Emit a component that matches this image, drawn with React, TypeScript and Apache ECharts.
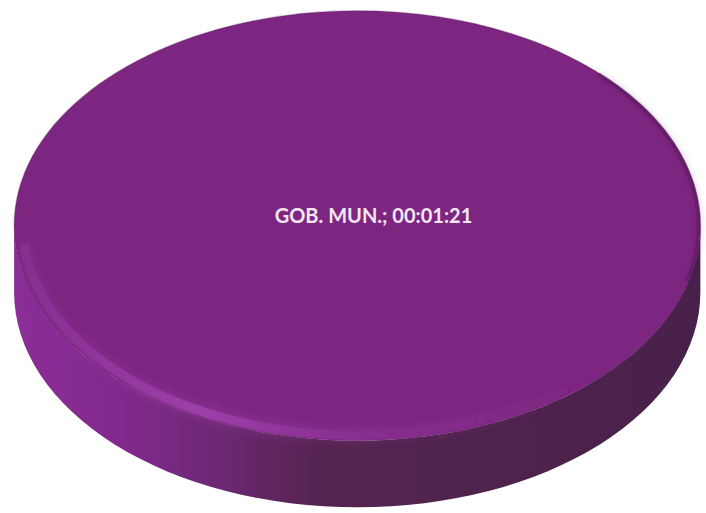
import React, { useEffect, useRef } from "react";
import * as echarts from "echarts";

// Data
const categories: string[] = ["GOB. MUN."];
const durationSeconds: number[] = [81]; // 00:01:21
const durationLabels: string[] = ["00:01:21"];

export default function App() {
  const ref = useRef<HTMLDivElement>(null);

  useEffect(() => {
    document.body.style.margin = "0";
    if (!ref.current) return;
    const chart = echarts.init(ref.current, undefined, { renderer: "svg" });
    const total = durationSeconds.reduce((a, b) => a + b, 0);

    const renderItem = (params: any, api: any) => {
      const W = api.getWidth();
      const H = api.getHeight();
      const cx = W * 0.506;
      const cy = H * 0.44;
      const rx = W * 0.486;
      const ry = H * 0.419;
      const depth = H * 0.13;
      const share = (api.value(0) as number) / total;
      const idx = params.dataIndex;
      const children: any[] = [];

      // side wall (front half band)
      const sideD =
        `M ${cx - rx} ${cy} A ${rx} ${ry} 0 0 0 ${cx + rx} ${cy} ` +
        `L ${cx + rx} ${cy + depth} A ${rx} ${ry} 0 0 1 ${cx - rx} ${cy + depth} Z`;
      children.push({
        type: "path",
        shape: { pathData: sideD },
        style: {
          fill: {
            type: "linear", x: 0, y: 0, x2: 1, y2: 0,
            colorStops: [
              { offset: 0, color: "#8b2e98" },
              { offset: 0.15, color: "#82298e" },
              { offset: 0.3, color: "#6c2873" },
              { offset: 0.45, color: "#54244f" },
              { offset: 1, color: "#48214a" },
            ],
          },
        },
      });

      // top face
      if (share >= 0.9999) {
        children.push({
          type: "ellipse",
          shape: { cx, cy, rx, ry },
          style: {
            fill: "#7d2681",
            stroke: "rgba(80,25,82,0.25)",
            lineWidth: 1.5,
          },
        });
      } else {
        const a0 = -Math.PI / 2;
        const a1 = a0 + share * Math.PI * 2;
        const pts: number[][] = [[cx, cy]];
        const n = 120;
        for (let i = 0; i <= n; i++) {
          const a = a0 + ((a1 - a0) * i) / n;
          pts.push([cx + rx * Math.cos(a), cy + ry * Math.sin(a)]);
        }
        children.push({ type: "polygon", shape: { points: pts }, style: { fill: "#7d2681" } });
      }

      // bevel highlight along the front edge of the top face
      const ang = (d: number) => (d * Math.PI) / 180;
      const p = (d: number, k: number) => [cx + rx * k * Math.cos(ang(d)), cy + ry * k * Math.sin(ang(d))];
      const k1 = 0.975;
      const s1 = p(175, k1);
      const e1 = p(40, k1);
      children.push({
        type: "path",
        shape: {
          pathData: `M ${s1[0]} ${s1[1]} A ${rx * k1} ${ry * k1} 0 0 0 ${e1[0]} ${e1[1]}`,
        },
        style: {
          fill: "none",
          lineWidth: 9,
          stroke: {
            type: "linear", x: 0, y: 0, x2: 1, y2: 0,
            colorStops: [
              { offset: 0, color: "rgba(160,60,175,0.25)" },
              { offset: 0.3, color: "rgba(165,68,180,0.75)" },
              { offset: 0.55, color: "rgba(145,52,155,0.45)" },
              { offset: 1, color: "rgba(120,40,125,0)" },
            ],
          },
          shadowBlur: 12,
          shadowColor: "rgba(165,68,180,0.7)",
        },
      });
      // darker rim at the right
      const s2 = p(-45, 0.995);
      const e2 = p(15, 0.995);
      children.push({
        type: "path",
        shape: { pathData: `M ${s2[0]} ${s2[1]} A ${rx * 0.995} ${ry * 0.995} 0 0 1 ${e2[0]} ${e2[1]}` },
        style: { fill: "none", stroke: "rgba(80,25,82,0.45)", lineWidth: 4, shadowBlur: 6, shadowColor: "rgba(80,25,82,0.5)" },
      });

      // label
      children.push({
        type: "text",
        style: {
          text: `${categories[idx]}; ${durationLabels[idx]}`,
          x: cx + W * 0.023,
          y: cy - H * 0.02,
          fill: "#f4e6f4",
          fontSize: 20,
          fontWeight: "bold",
          fontFamily: "Lato, 'Open Sans', sans-serif",
          align: "center",
          verticalAlign: "middle",
        },
      });

      return { type: "group", children };
    };

    chart.setOption({
      animation: false,
      backgroundColor: "#ffffff",
      series: [
        {
          type: "custom",
          coordinateSystem: "none",
          renderItem,
          data: durationSeconds.map((v, i) => ({ name: categories[i], value: [v] })),
        },
      ],
    });

    return () => chart.dispose();
  }, []);

  return (
    <div
      ref={ref}
      style={{ position: "absolute", left: 0, top: 0, width: 706, height: 513 }}
    />
  );
}
